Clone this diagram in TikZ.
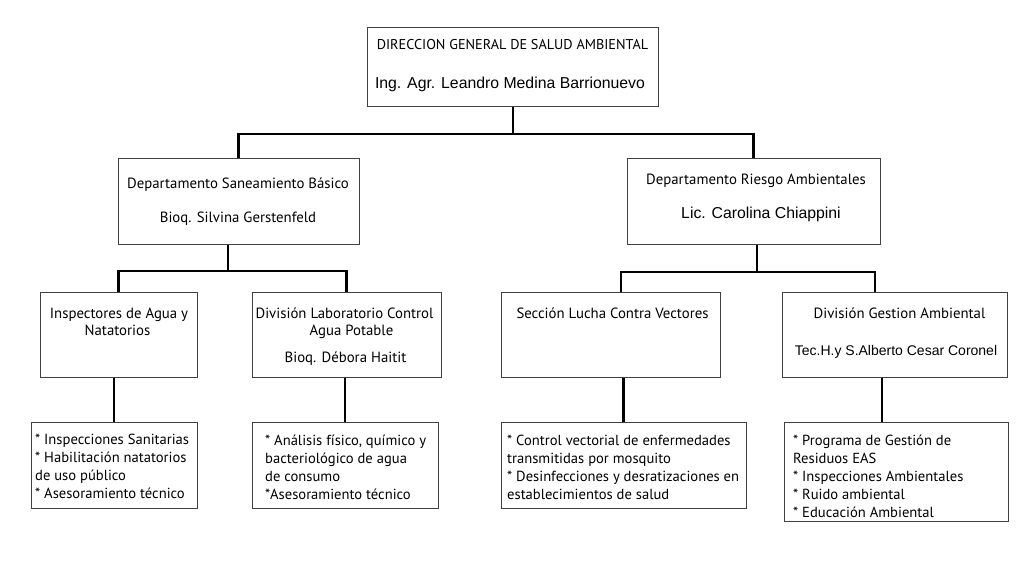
\documentclass[tikz,border=0pt]{standalone}
\usepackage{fontspec}
\setmainfont{PT Sans}
\newfontfamily\arialf{Liberation Sans}
\usetikzlibrary{positioning,calc}

\begin{document}
\begin{tikzpicture}[x=1pt,y=-1pt,
    orgbox/.style={draw=black!75, line width=1pt, inner sep=0pt},
    link/.style={draw=black, line width=2.4pt},
    titletxt/.style={inner sep=0pt, anchor=base, font=\fontsize{14.8}{17}\selectfont},
    headtxt/.style={inner sep=0pt, anchor=base, font=\arialf\fontsize{15.8}{18}\selectfont},
    tasktxt/.style={inner sep=0pt, anchor=base west, align=left, font=\fontsize{14.6}{17.9}\selectfont}]
    \useasboundingbox[fill=white] (0,0) rectangle (1024,576);

    % Direccion general
    \node[orgbox, minimum width=291, minimum height=79] (dir) at (513,66.5) {};
    \node[titletxt, font=\fontsize{14.2}{17}\selectfont] (dirtitle) at (512.5,49) {DIRECCION GENERAL DE SALUD AMBIENTAL};
    \node[headtxt] (dirhead) at (510,88) {Ing. Agr. Leandro Medina Barrionuevo};

    % Departamentos
    \node[orgbox, minimum width=241, minimum height=86] (dsb) at (238.5,201) {};
    \node[titletxt] (dsbtitle) at (238,188) {Departamento Saneamiento Básico};
    \node[titletxt] (dsbhead) at (238,222) {Bioq. Silvina Gerstenfeld};

    \node[orgbox, minimum width=253, minimum height=86] (dra) at (753.5,201) {};
    \node[titletxt] (dratitle) at (756,184) {Departamento Riesgo Ambientales};
    \node[headtxt] (drahead) at (761,218) {Lic. Carolina Chiappini};

    % Divisiones y secciones
    \node[orgbox, minimum width=157, minimum height=85] (ina) at (118.5,334.5) {};
    \node[titletxt] (inatitle) at (119,318) {Inspectores de Agua y};
    \node[titletxt] (inatitleb) at (117.5,335) {Natatorios};

    \node[orgbox, minimum width=189, minimum height=85] (dlab) at (346.5,334.5) {};
    \node[titletxt] (dlabtitle) at (344.5,318) {División Laboratorio Control};
    \node[titletxt] (dlabtitleb) at (351.5,335) {Agua Potable};
    \node[titletxt] (dlabhead) at (345.5,362) {Bioq. Débora Haitit};

    \node[orgbox, minimum width=219, minimum height=85] (slv) at (610.5,334.5) {};
    \node[titletxt] (slvtitle) at (612.5,318) {Sección Lucha Contra Vectores};

    \node[orgbox, minimum width=225, minimum height=85] (dga) at (894.5,334.5) {};
    \node[titletxt] (dgatitle) at (899.5,318) {División Gestion Ambiental};
    \node[headtxt, font=\arialf\fontsize{14}{17}\selectfont] (dgahead) at (896,355) {Tec.H.y S.Alberto Cesar Coronel};

    % Tareas
    \node[orgbox, minimum width=166, minimum height=86] (tina) at (114,465) {};
    \node[tasktxt] (tinatext) at (35,498) {* Inspecciones Sanitarias\\* Habilitación natatorios\\de uso público\\* Asesoramiento técnico};

    \node[orgbox, minimum width=186, minimum height=86] (tlab) at (345,465) {};
    \node[tasktxt] (tlabtext) at (265,499) {* Análisis físico, químico y\\bacteriológico de agua\\de consumo\\*Asesoramiento técnico};

    \node[orgbox, minimum width=245, minimum height=86] (tslv) at (623.5,465) {};
    \node[tasktxt] (tslvtext) at (507,499) {* Control vectorial de enfermedades\\transmitidas por mosquito\\* Desinfecciones y desratizaciones en\\establecimientos de salud};

    \node[orgbox, minimum width=224, minimum height=99] (tdga) at (896,471.5) {};
    \node[tasktxt] (tdgatext) at (793,517) {* Programa de Gestión de\\Residuos EAS\\* Inspecciones Ambientales\\* Ruido ambiental\\* Educación Ambiental};

    % Conectores
    \coordinate (busdir) at (513,134);
    \draw[link] (dir.south) -- (busdir);
    \draw[link] (dsb.north) |- (busdir) -| (dra.north);

    \coordinate (busdsb) at (228,271);
    \draw[link] (dsb.south -| busdsb) -- (busdsb);
    \draw[link] (ina.north) |- (busdsb) -| (dlab.north);

    \coordinate (busdra) at (757,272);
    \coordinate (kslv) at (621,272);
    \coordinate (kdga) at (875,272);
    \draw[link] (dra.south -| busdra) -- (busdra);
    \draw[link] (slv.north -| kslv) -- (kslv) -- (kdga) -- (dga.north -| kdga);

    \draw[link] (ina.south -| tina.north) -- (tina.north);
    \draw[link] (dlab.south -| tlab.north) -- (tlab.north);
    \draw[link] (slv.south -| tslv.north) -- (tslv.north);
    \draw[link] (dga.south -| 882,0) -- (tdga.north -| 882,0);
\end{tikzpicture}
\end{document}
